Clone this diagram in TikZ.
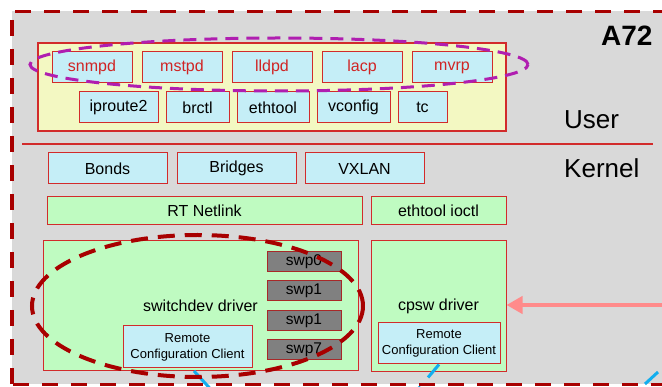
\documentclass[tikz,border=0pt]{standalone}
\usepackage{fontspec}
\setmainfont{Liberation Sans}
\usetikzlibrary{arrows.meta}

\definecolor{bggray}{HTML}{D9D9D9}
\definecolor{framered}{HTML}{A80000}
\definecolor{edgered}{HTML}{D22B2B}
\definecolor{swpedge}{HTML}{A82828}
\definecolor{txtred}{HTML}{D02424}
\definecolor{paleblue}{HTML}{C5EEF7}
\definecolor{paleyellow}{HTML}{F3F8C2}
\definecolor{palegreen}{HTML}{BFFBC1}
\definecolor{swpgray}{HTML}{808080}
\definecolor{magentadash}{HTML}{B01EB0}
\definecolor{pinkline}{HTML}{FF8B8B}
\definecolor{cyanline}{HTML}{12AEEE}

\begin{document}
\begin{tikzpicture}[x=1pt,y=-1pt,
  box/.style={draw=edgered, line width=1pt, inner sep=0pt,
              font=\fontsize{16}{19}\selectfont},
  appbox/.style={box, fill=paleblue, minimum height=31pt},
  kbox/.style={box, fill=palegreen},
  swpbox/.style={draw=swpedge, line width=1pt, fill=swpgray, inner sep=0pt,
                 minimum width=74pt, minimum height=20pt,
                 font=\fontsize{15.5}{18}\selectfont},
  rccbox/.style={box, fill=paleblue, align=center,
                 font=\fontsize{13}{16}\selectfont},
  framedash/.style={framered, line width=3.6pt, dash pattern=on 16pt off 13pt},
  bigtext/.style={anchor=base west, inner sep=0pt, font=\fontsize{26}{30}\selectfont},
  cyanlink/.style={cyanline, line width=3pt}
]
\useasboundingbox (0,0) rectangle (662,387);
\clip (0,0) rectangle (662,387);

% processor area
\fill[bggray] (12,11.5) rectangle (700,384.5);

% user space
\node[draw=edgered, fill=paleyellow, line width=1.2pt, inner sep=0pt,
      minimum width=468pt, minimum height=88pt] (userbox) at (272,87) {};

\node[appbox, minimum width=80pt, text=txtred] (snmpd) at (92,67.5)  {snmpd};
\node[appbox, minimum width=80pt, text=txtred] (mstpd) at (182,67.5) {mstpd};
\node[appbox, minimum width=80pt, text=txtred] (lldpd) at (272,67.5) {lldpd};
\node[appbox, minimum width=80pt, text=txtred] (lacp)  at (362,67.5) {lacp};
\node[appbox, minimum width=80pt, text=txtred] (mvrp)  at (452,67.5) {mvrp};

\node[appbox, minimum width=79pt] (iproute) at (118.5,107.5) {iproute2};
\node[appbox, minimum width=63pt] (brctl)   at (197.5,107.5) {brctl};
\node[appbox, minimum width=72pt] (ethtool) at (273,107.5)   {ethtool};
\node[appbox, minimum width=73pt] (vconfig) at (353.5,107.5) {vconfig};
\node[appbox, minimum width=49pt] (tc)      at (422.5,107.5) {tc};

% user / kernel split
\coordinate (splitL) at (22,144);
\coordinate (splitR) at (653,144);
\draw[edgered, line width=1.3pt] (splitL) -- (splitR);

% kernel space
\node[appbox, minimum width=119pt] (bonds)   at (107.5,168.5) {Bonds};
\node[appbox, minimum width=119pt] (bridges) at (236.5,168.5) {Bridges};
\node[appbox, minimum width=119pt] (vxlan)   at (364.5,168.5) {VXLAN};

\node[kbox, minimum width=315pt, minimum height=28pt] (rtnl)  at (204.5,211) {RT Netlink};
\node[kbox, minimum width=135pt, minimum height=28pt] (ioctl) at (438.5,211) {ethtool ioctl};

\node[kbox, minimum width=315pt, minimum height=130pt] (switchdev) at (200.5,306) {switchdev driver};
\node[kbox, minimum width=135pt, minimum height=131pt] (cpsw) at (438.5,306.5) {cpsw driver};

\node[swpbox] (swp0) at (304,262) {swp0};
\node[swpbox] (swp1) at (304,291) {swp1};
\node[swpbox] (swp2) at (304,321) {swp1};
\node[swpbox] (swp7) at (304,350) {swp7};

\node[rccbox, minimum width=129pt, minimum height=42pt] (rcc1) at (187.5,347) {Remote\\Configuration Client};
\node[rccbox, minimum width=122pt, minimum height=41pt] (rcc2) at (439,343.5) {Remote\\Configuration Client};

% links leaving the processor
\coordinate (c1) at (194,371);
\draw[cyanlink] (c1) -- ++(22,24);
\draw[cyanlink, dash pattern=on 17pt off 12pt] (rcc2.south) -- ++(-33,39);
\coordinate (c3) at (658,372);
\draw[cyanlink] (c3) -- ++(-13,12);

% processor frame
\draw[framedash] (15,11.5) -- (700,11.5);
\draw[framedash] (12,20) -- (12,384.5);
\draw[framedash] (13,384.5) -- (700,384.5);

% groupings
\draw[magentadash, line width=3pt, dash pattern=on 13pt off 8pt]
  (279,64.5) ellipse [x radius=249pt, y radius=26.5pt];
\draw[framered, line width=4pt, dash pattern=on 17pt off 10pt]
  (197.5,306) ellipse [x radius=165.5pt, y radius=71pt];

% incoming traffic
\coordinate (feed) at (680,305);
\draw[pinkline, line width=4pt, -{Triangle[length=16pt,width=17pt]}]
  (feed) -- (feed -| cpsw.east);

% labels
\node[anchor=base west, inner sep=0pt, font=\fontsize{28}{32}\selectfont\bfseries] (a72) at (601,46) {A72};
\node[bigtext] (user) at (564,129) {User};
\node[bigtext] (kernel) at (564,178) {Kernel};
\end{tikzpicture}
\end{document}
